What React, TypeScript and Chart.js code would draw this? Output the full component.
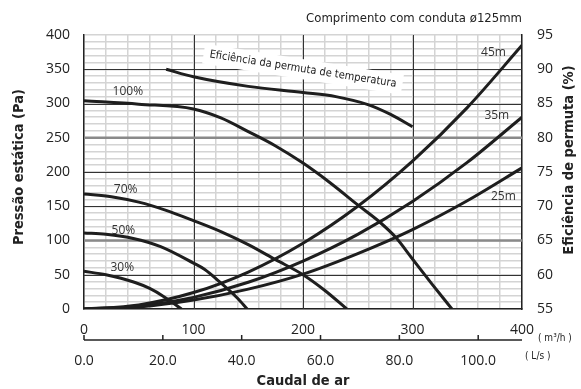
import React, { useEffect, useRef } from "react";
import { Chart, registerables } from "chart.js";
Chart.register(...registerables);

// Fan curves (flow m³/h -> static pressure Pa)
const flow100 = [0, 50, 100, 125, 150, 175, 200, 225, 250, 270, 285, 300, 318, 336];
const press100 = [304, 299, 292, 279, 259, 238, 213, 184, 152, 127, 104, 73, 36, 0];
const flow70 = [0, 25, 50, 75, 100, 125, 150, 175, 200, 220, 240];
const press70 = [168, 164, 156, 144, 129, 113, 94, 72, 50, 27, 0];
const flow50 = [0, 20, 45, 70, 100, 110, 125, 140, 149];
const press50 = [111, 109, 103, 91, 67, 58, 38, 16, 0];
const flow30 = [0, 20, 46, 60, 73, 89];
const press30 = [55, 50, 39, 30, 18, 0];

// Duct curves
const ductFlow = [0, 50, 100, 150, 200, 250, 300, 350, 400];
const duct45 = [0, 6, 24, 54, 96, 150, 216, 294, 385];
const duct35 = [0, 4, 17, 39, 70, 109, 157, 214, 280];
const duct25 = [0, 3, 13, 29, 51, 81, 116, 158, 206];

// Heat exchange efficiency (%)
const effFlow = [75, 100, 150, 200, 230, 260, 280, 300];
const effValue = [90, 88.9, 87.5, 86.6, 86, 84.8, 83.4, 81.6];

// Axis ticks
const lsTicks = [0, 20, 40, 60, 80, 100];
const majorX = [100, 200, 300];
const majorY = [50, 100, 150, 200, 250, 300, 350];
const grayY = [100, 250];

// Curve labels [text, flow, pressure]
const curveLabels: [string, number, number][] = [
  ["100%", 40, 317],
  ["70%", 38, 175],
  ["50%", 36, 115],
  ["30%", 35, 60],
  ["45m", 374, 374],
  ["35m", 377, 283],
  ["25m", 383, 164],
];

const NARROW = "'Liberation Sans Narrow', 'DejaVu Sans Condensed', sans-serif";
const REG = "'Open Sans', sans-serif";
const INK = "#1e1e1e";

const pts = (xs: number[], ys: number[]) => xs.map((x, i) => ({ x, y: ys[i] }));

const lineDs = (data: { x: number; y: number }[], axis = "y") => ({
  data,
  yAxisID: axis,
  borderColor: INK,
  borderWidth: 3,
  pointRadius: 0,
  fill: false,
  cubicInterpolationMode: "monotone" as const,
});

const overlay = {
  id: "overlay",
  beforeDatasetsDraw(chart: any) {
    const c = chart.ctx;
    const x = chart.scales.x;
    const y = chart.scales.y;
    const a = chart.chartArea;
    c.save();
    // major grid lines on top of minor ones
    majorX.forEach((v) => {
      const px = Math.round(x.getPixelForValue(v)) + 0.5;
      c.strokeStyle = "#333";
      c.lineWidth = 1;
      c.beginPath();
      c.moveTo(px, a.top);
      c.lineTo(px, a.bottom);
      c.stroke();
    });
    majorY.forEach((v) => {
      const gray = grayY.includes(v);
      const py = gray ? y.getPixelForValue(v) : Math.round(y.getPixelForValue(v)) + 0.5;
      c.strokeStyle = gray ? "#8a8a8a" : "#333";
      c.lineWidth = gray ? 2.5 : 1;
      c.beginPath();
      c.moveTo(a.left, py);
      c.lineTo(a.right, py);
      c.stroke();
    });
    // rotated label
    const cx = x.getPixelForValue(200);
    const cy = y.getPixelForValue(350);
    c.translate(cx, cy);
    c.rotate((9 * Math.PI) / 180);
    c.font = `11px ${NARROW}`;
    const t = "Eficiência da permuta de temperatura";
    const w = c.measureText(t).width;
    c.fillStyle = "#ffffff";
    c.fillRect(-w / 2 - 6, -10, w + 12, 20);
    c.fillStyle = "#222";
    c.textAlign = "center";
    c.textBaseline = "middle";
    c.fillText(t, 0, 0);
    c.restore();
  },
  afterDraw(chart: any) {
    const c = chart.ctx;
    const x = chart.scales.x;
    const y = chart.scales.y;
    const area = chart.chartArea;
    c.save();
    // L/s axis
    const ay = 340;
    c.strokeStyle = "#222";
    c.lineWidth = 1.5;
    c.beginPath();
    c.moveTo(x.getPixelForValue(0), ay);
    c.lineTo(x.getPixelForValue(400), ay);
    c.stroke();
    c.font = `14px ${REG}`;
    c.fillStyle = "#222";
    c.textAlign = "center";
    c.textBaseline = "middle";
    lsTicks.forEach((v) => {
      const px = x.getPixelForValue(v * 3.6);
      c.beginPath();
      c.moveTo(px, ay);
      c.lineTo(px, ay - 5);
      c.stroke();
      c.fillText(v.toFixed(1), px, 361);
    });
    // units
    c.font = `10px ${NARROW}`;
    c.textAlign = "left";
    c.fillText("( m³/h )", area.right + 16, 338);
    c.fillText("( L/s )", area.right + 3, 356);
    // title
    c.font = `13px ${NARROW}`;
    c.textAlign = "right";
    c.fillText("Comprimento com conduta ø125mm", area.right, 19);
    // axis titles
    c.font = `bold 14.5px ${NARROW}`;
    c.textAlign = "center";
    c.fillText("Caudal de ar", (area.left + area.right) / 2, 381);
    c.save();
    c.translate(19, 167);
    c.rotate(-Math.PI / 2);
    c.fillText("Pressão estática (Pa)", 0, 0);
    c.restore();
    c.save();
    c.translate(569, 160);
    c.rotate(-Math.PI / 2);
    c.fillText("Eficiência de permuta (%)", 0, 0);
    c.restore();
    // curve labels
    c.font = `12px ${REG}`;
    c.fillStyle = "#333";
    curveLabels.forEach(([t, fx, fy]) => {
      c.fillText(t, x.getPixelForValue(fx), y.getPixelForValue(fy));
    });
    c.restore();
  },
};

export default function App() {
  const ref = useRef<HTMLCanvasElement>(null);
  useEffect(() => {
    document.body.style.margin = "0";
    const canvas = ref.current!;
    const chart = new Chart(canvas, {
      type: "line",
      data: {
        datasets: [
          lineDs(pts(flow100, press100)),
          lineDs(pts(flow70, press70)),
          lineDs(pts(flow50, press50)),
          lineDs(pts(flow30, press30)),
          lineDs(pts(ductFlow, duct45)),
          lineDs(pts(ductFlow, duct35)),
          lineDs(pts(ductFlow, duct25)),
          lineDs(pts(effFlow, effValue), "y1"),
        ],
      },
      options: {
        animation: false,
        responsive: false,
        devicePixelRatio: 1,
        layout: { padding: { top: 35, left: 0, right: 0, bottom: 0 } },
        plugins: { legend: { display: false }, tooltip: { enabled: false } },
        scales: {
          x: {
            type: "linear",
            min: 0,
            max: 400,
            position: "bottom",
            afterFit: (s: any) => {
              s.height = 80;
            },
            ticks: {
              stepSize: 20,
              autoSkip: false,
              maxRotation: 0,
              padding: 13,
              color: "#222",
              font: { family: REG, size: 14 },
              callback: (v: any) => (Number(v) % 100 === 0 ? String(v) : ""),
            },
            grid: {
              drawTicks: false,
              color: "#d4d4d4",
              lineWidth: 1.5,
            },
            border: { display: true, color: "#222", width: 1.5 },
          },
          y: {
            type: "linear",
            min: 0,
            max: 400,
            position: "left",
            afterFit: (s: any) => {
              s.width = 84;
            },
            ticks: {
              stepSize: 10,
              autoSkip: false,
              padding: 14,
              color: "#222",
              font: { family: REG, size: 14 },
              callback: (v: any) => (Number(v) % 50 === 0 ? String(v) : ""),
            },
            grid: {
              drawTicks: false,
              color: "#d4d4d4",
              lineWidth: 1.5,
            },
            border: { display: true, color: "#222", width: 1.5 },
          },
          y1: {
            type: "linear",
            min: 55,
            max: 95,
            position: "right",
            afterFit: (s: any) => {
              s.width = 59;
            },
            ticks: {
              stepSize: 5,
              padding: 15,
              color: "#222",
              font: { family: REG, size: 14 },
            },
            grid: { drawOnChartArea: false, drawTicks: false },
            border: { display: true, color: "#222", width: 1.5 },
          },
        },
      },
      plugins: [overlay],
    } as any);
    return () => chart.destroy();
  }, []);
  return <canvas ref={ref} width={581} height={389} style={{ display: "block" }} />;
}
